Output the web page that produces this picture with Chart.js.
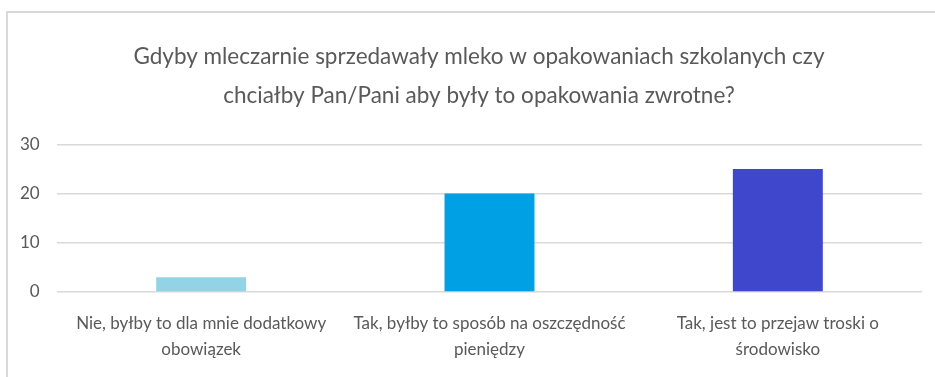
<!DOCTYPE html>
<html>
<head>
<meta charset="utf-8">
<script src="https://cdn.jsdelivr.net/npm/chart.js@4.4.1/dist/chart.umd.min.js"></script>
<style>
  html, body { margin: 0; padding: 0; background: #fff; overflow: hidden; }
  #wrap { position: absolute; left: 0; top: 0; width: 935px; height: 377px; }
  #frame { position: absolute; left: 6px; top: 11px; width: 960px; height: 400px;
           border-left: 2px solid #d9d9d9; border-top: 2px solid #d9d9d9; }
</style>
</head>
<body>
<div id="frame"></div>
<div id="wrap"><canvas id="chart" width="935" height="377"></canvas></div>
<script>
// dane
const titleLines = [
    'Gdyby mleczarnie sprzedawały mleko w opakowaniach szkolanych czy',
    'chciałby Pan/Pani aby były to opakowania zwrotne?'
];
const categories = [
    ['Nie, byłby to dla mnie dodatkowy', 'obowiązek'],
    ['Tak, byłby to sposób na oszczędność', 'pieniędzy'],
    ['Tak, jest to przejaw troski o', 'środowisko']
];
const values = [3, 20, 25];
const barColors = ['#92d3e6', '#00a0e4', '#3f48cc'];
const yTicks = [0, 10, 20, 30];

const textColor = '#595959';
const fontFamily = 'Lato, Carlito, "Open Sans", sans-serif';

// tytuł jest przesunięty w prawo (ramka wychodzi poza obraz), stąd lewy padding;
// etykiety osi Y jako "mirror", żeby nie były przycinane do wąskiej osi
new Chart(document.getElementById('chart'), {
    type: 'bar',
    data: {
        labels: categories,
        datasets: [{
            data: values,
            backgroundColor: barColors,
            borderWidth: 0,
            categoryPercentage: 1,
            barPercentage: 0.312
        }]
    },
    options: {
        responsive: false,
        animation: false,
        layout: { padding: { left: 36, right: 13, top: 0, bottom: 0 } },
        plugins: {
            legend: { display: false },
            tooltip: { enabled: false },
            title: {
                display: true,
                text: titleLines,
                color: textColor,
                font: { family: fontFamily, size: 22.5, weight: 'normal', lineHeight: 1.74 },
                padding: { top: 37, bottom: 29 }
            }
        },
        scales: {
            x: {
                grid: { display: false },
                border: { display: false },
                ticks: {
                    color: textColor,
                    font: { family: fontFamily, size: 17, lineHeight: 1.55 },
                    maxRotation: 0,
                    autoSkip: false,
                    padding: 10
                },
                afterFit: function (scale) { scale.height = 85; }
            },
            y: {
                min: 0,
                max: 30,
                afterBuildTicks: function (scale) {
                    scale.ticks = yTicks.map(v => ({ value: v }));
                },
                grid: { color: '#d9d9d9', lineWidth: 1.5, drawTicks: false },
                border: { display: false },
                ticks: {
                    color: textColor,
                    font: { family: fontFamily, size: 17 },
                    mirror: true,
                    crossAlign: 'far',
                    padding: -37
                },
                afterFit: function (scale) { scale.width = 21; }
            }
        }
    }
});
</script>
</body>
</html>
